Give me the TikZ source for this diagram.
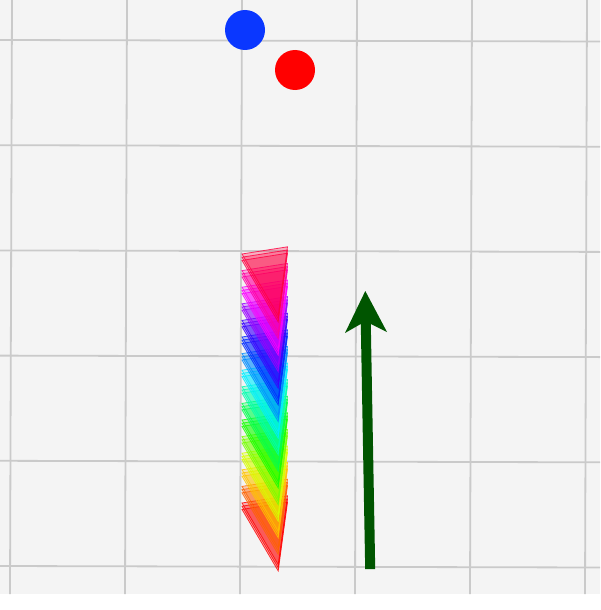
\PassOptionsToPackage{rgb}{xcolor}
\documentclass[tikz,border=0pt]{standalone}
\begin{document}
\begin{tikzpicture}[x=1pt,y=-1pt,
  gridline/.style={draw=gridgray, line width=1.8pt},
  dot/.style={circle, inner sep=0pt, minimum size=40pt},
  tri/.style={fill=tc, draw=tc, fill opacity=0.28, draw opacity=0.8, line width=0.8pt, line join=miter}]
\definecolor{bggray}{RGB}{244,244,244}
\definecolor{gridgray}{RGB}{202,202,202}
\definecolor{dotblue}{RGB}{10,55,255}
\definecolor{dotred}{RGB}{255,0,0}
\definecolor{arrowgreen}{RGB}{0,85,0}
\useasboundingbox (0,0) rectangle (600,610);
\fill[bggray] (0,0) rectangle (600,594);
% grid
\foreach \x in {12,127,242,357,472,587}
  \draw[gridline] (\x,0) -- (\x-2,594);
\foreach \y in {40,145.2,250.4,355.6,460.8,566}
  \draw[gridline] (0,\y) -- (600,\y+1.5);
% dots
\node[dot, fill=dotblue] (blue) at (245,30) {};
\node[dot, fill=dotred] (red) at (295,70) {};
% rainbow triangles (lower ones first, upper ones on top)
\foreach \j in {15,14,...,0}{
  \pgfmathsetmacro\h{345*(1-\j/15)}
  \definecolor{tch}{Hsb}{\h,1,1}
  \colorlet{tc}[rgb]{tch}
  \foreach \k in {2,1,0}{
    \pgfmathsetmacro\yy{254+\j*16.6+\k*3.2}
    \draw[tri] (242,\yy) -- (287.5,\yy-7.2) -- (278.2,\yy+61.5) -- cycle;
  }
}
% green arrow
\coordinate (sbl) at (365.2,569);
\coordinate (sbr) at (375.2,569);
\coordinate (str) at (370.8,324);
\coordinate (wr) at (387,332);
\coordinate (tip) at (365.3,291);
\coordinate (wl) at (345,333);
\coordinate (stl) at (360.8,324);
\fill[arrowgreen] (sbl) -- (sbr) -- (str) -- (wr) -- (tip) -- (wl) -- (stl) -- cycle;
\end{tikzpicture}
\end{document}
